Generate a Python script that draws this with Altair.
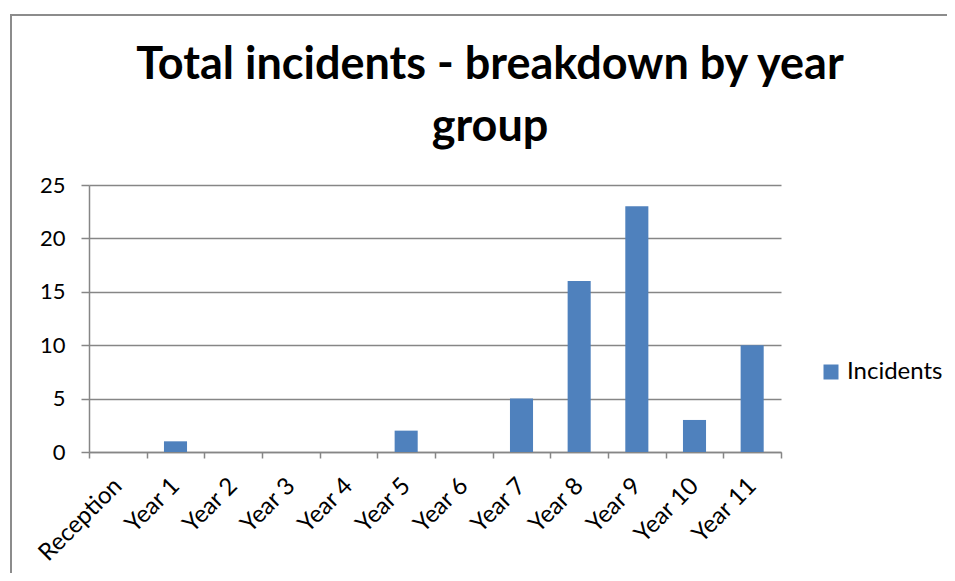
import altair as alt
import pandas as pd

categories = ["Reception", "Year 1", "Year 2", "Year 3", "Year 4", "Year 5",
              "Year 6", "Year 7", "Year 8", "Year 9", "Year 10", "Year 11"]
incidents = [0, 1, 0, 0, 0, 2, 0, 5, 16, 23, 3, 10]
series_name = "Incidents"
title_lines = ["Total incidents - breakdown by year", "group"]

df = pd.DataFrame({"group": categories, "value": incidents, "series": series_name})

FONT = "Lato"
GRID = "#868686"

bars = alt.Chart(df).mark_bar(color="#4F81BD", width=alt.RelativeBandSize(0.4)).encode(
    x=alt.X("group:N", sort=categories, title=None,
            scale=alt.Scale(paddingInner=0, paddingOuter=0),
            axis=alt.Axis(labelAngle=-45, labelAlign="right", labelBaseline="middle",
                          tickBand="extent", tickSize=6, tickColor=GRID, tickWidth=1.5,
                          domainColor=GRID, domainWidth=1.5, labelPadding=24,
                          labelFontSize=24, labelFont=FONT, labelColor="#000000",
                          grid=False)),
    y=alt.Y("value:Q", title=None,
            scale=alt.Scale(domain=[0, 25], nice=False),
            axis=alt.Axis(values=[0, 5, 10, 15, 20, 25], tickSize=8, tickColor=GRID,
                          tickWidth=1.5, domainColor=GRID, domainWidth=1.5,
                          gridColor=GRID, gridWidth=1.5, labelPadding=16,
                          labelFontSize=22, labelFont=FONT, labelColor="#000000")),
    color=alt.Color("series:N", scale=alt.Scale(range=["#4F81BD"]), title=None,
                    legend=alt.Legend(orient="none", legendX=730, legendY=175,
                                      symbolType="square", symbolSize=225,
                                      symbolStrokeWidth=0, labelFontSize=24,
                                      labelFont=FONT, labelColor="#000000",
                                      labelOffset=4)),
)

border_v = alt.Chart(alt.Data(values=[{"a": 1}])).mark_rule(
    color="#8c8c8c", strokeWidth=2, clip=False
).encode(x=alt.value(-78), y=alt.value(-171), y2=alt.value(400))

border_h = alt.Chart(alt.Data(values=[{"a": 1}])).mark_rule(
    color="#8c8c8c", strokeWidth=2, clip=False
).encode(x=alt.value(-79), x2=alt.value(900), y=alt.value(-170))

chart = alt.layer(bars, border_v, border_h).properties(
    width=692, height=267,
    title=alt.Title(title_lines, font=FONT, fontSize=45, fontWeight="bold",
                    color="#000000", anchor="middle", dx=55, offset=-182,
                    baseline="bottom", lineHeight=62),
    autosize=alt.AutoSizeParams(type="none"),
    padding={"left": 81, "top": 177, "right": 166, "bottom": 121},
).configure_view(stroke=None)

chart.save("out.html", embed_options={"renderer": "svg", "actions": False})
